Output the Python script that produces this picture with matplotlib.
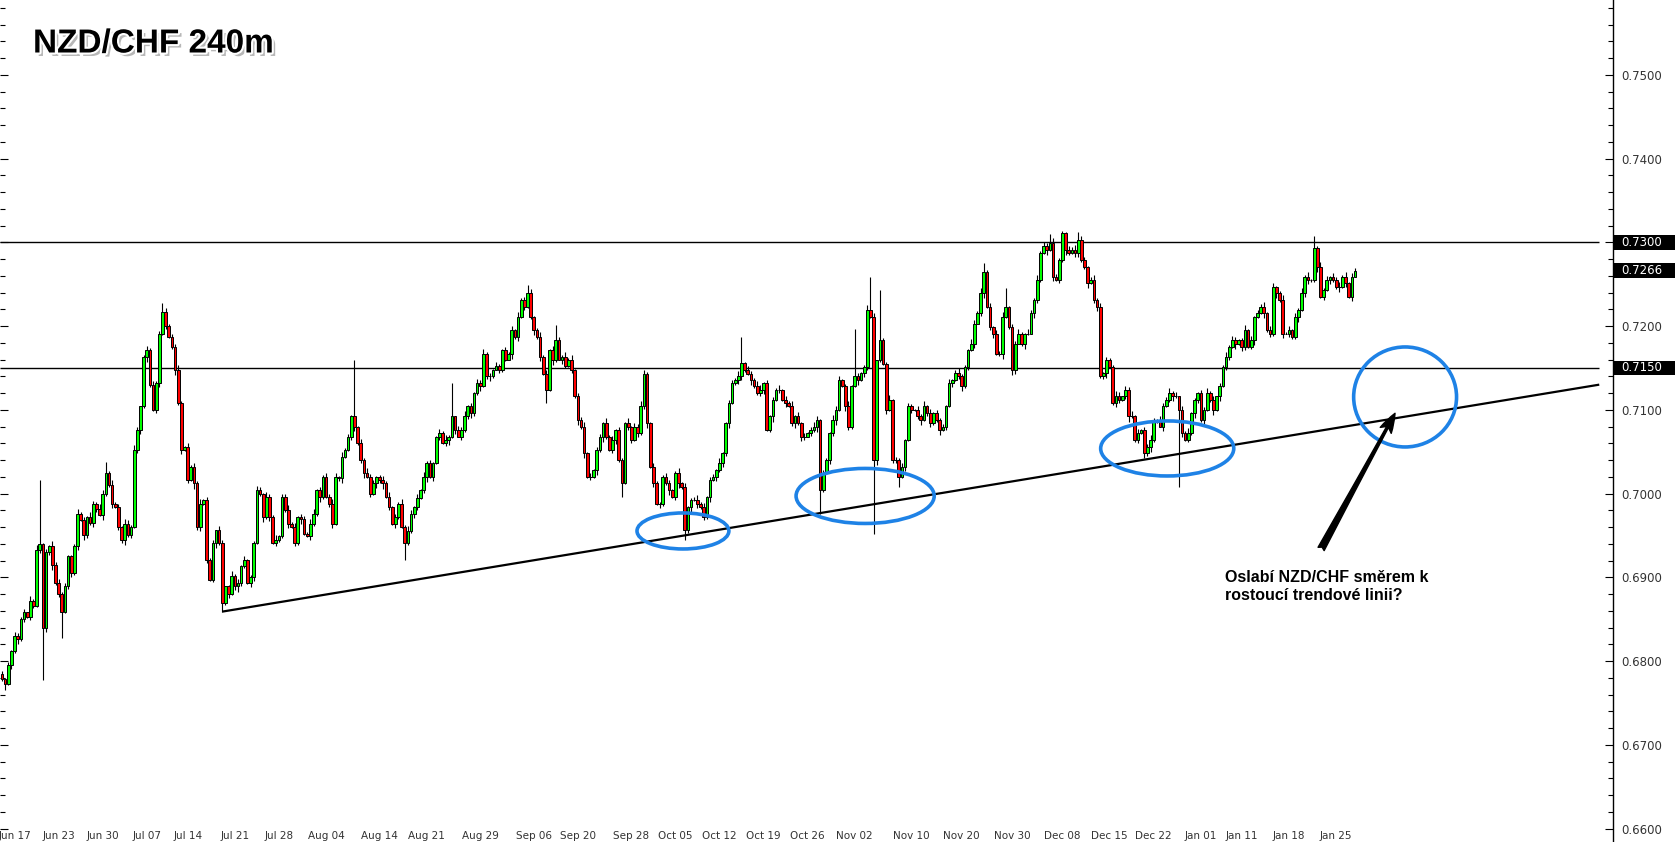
import matplotlib
matplotlib.use('Agg')
import matplotlib.pyplot as plt
import matplotlib.patheffects as pe
import matplotlib.transforms as mtransforms
from matplotlib.patches import Ellipse, Rectangle
from matplotlib.ticker import MultipleLocator
import numpy as np

# NZD/CHF 4h closes in pips (0.7000 -> 7000)
closes = [
    # Jun 17 - Sep 06
    6778, 6772, 6795, 6812, 6830, 6826, 6850, 6858, 6852, 6872,
    6866, 6933, 6940, 6840, 6930, 6937, 6915, 6893, 6880, 6858,
    6889, 6925, 6905, 6937, 6976, 6968, 6950, 6972, 6965, 6988,
    6982, 6974, 7000, 7024, 7010, 6988, 6984, 6960, 6944, 6964,
    6950, 6960, 7052, 7076, 7104, 7163, 7171, 7130, 7100, 7132,
    7191, 7217, 7200, 7187, 7175, 7147, 7108, 7052, 7056, 7016,
    7032, 7012, 6960, 6988, 6992, 6921, 6897, 6941, 6956, 6941,
    6869, 6889, 6880, 6901, 6889, 6893, 6913, 6921, 6893, 6900,
    6941, 7004, 7000, 6972, 6996, 6972, 6941, 6945, 6949, 6996,
    6980, 6964, 6960, 6941, 6972, 6970, 6952, 6949, 6964, 6976,
    7004, 6996, 7020, 6996, 6988, 6964, 7020, 7018, 7044, 7052,
    7068, 7092, 7080, 7060, 7040, 7025, 7020, 7000, 7012, 7020,
    7016, 7012, 6996, 6984, 6964, 6972, 6988, 6960, 6941, 6955,
    6976, 6984, 6995, 7004, 7020, 7036,
    # Sep 06 - Nov 02
    7020, 7036, 7068, 7072, 7060, 7064, 7068, 7092, 7076, 7068,
    7076, 7092, 7104, 7096, 7120, 7132, 7128, 7167, 7140, 7140,
    7148, 7152, 7148, 7171, 7160, 7167, 7195, 7187, 7211, 7231,
    7223, 7239, 7211, 7195, 7187, 7163, 7143, 7124, 7171, 7160,
    7183, 7160, 7163, 7152, 7160, 7148, 7116, 7088, 7080, 7048,
    7020, 7020, 7028, 7052, 7068, 7084, 7068, 7052, 7064, 7076,
    7040, 7012, 7084, 7080, 7064, 7080, 7072, 7104, 7143, 7084,
    7032, 7012, 6988, 6988, 7020, 7012, 7004, 6996, 7024, 7012,
    7008, 6956, 6984, 6992, 6992, 6988, 6984, 6972, 6996, 7016,
    7020, 7028, 7036, 7048, 7084, 7108, 7132, 7136, 7140, 7156,
    7148, 7143, 7136, 7128, 7120, 7124, 7132, 7076, 7092, 7112,
    7124, 7124, 7112, 7108, 7104, 7084, 7092, 7084, 7068, 7068,
    7072, 7076,
    # Nov 02 - Jan 01
    7080, 7088, 7004, 7024, 7040, 7072, 7088, 7100, 7136, 7128,
    7104, 7080, 7128, 7140, 7136, 7144, 7151, 7219, 7211, 7040,
    7159, 7183, 7155, 7100, 7112, 7040, 7040, 7020, 7032, 7064,
    7104, 7100, 7100, 7092, 7088, 7104, 7096, 7084, 7096, 7088,
    7076, 7080, 7104, 7132, 7136, 7144, 7140, 7128, 7151, 7171,
    7179, 7203, 7215, 7239, 7265, 7223, 7199, 7191, 7167, 7167,
    7211, 7223, 7199, 7147, 7179, 7191, 7179, 7191, 7191, 7215,
    7231, 7255, 7287, 7295, 7291, 7299, 7259, 7255, 7279, 7311,
    7291, 7287, 7291, 7287, 7303, 7279, 7271, 7251, 7255, 7231,
    7223, 7140, 7144, 7159, 7151, 7108, 7116, 7112, 7116, 7124,
    7092, 7092, 7064, 7072, 7076, 7048, 7056, 7064, 7088, 7088,
    7080, 7104, 7112, 7120, 7116, 7116, 7100, 7072, 7064, 7072,
    7096, 7112, 7120, 7088, 7100, 7120, 7112, 7100, 7116,
    # Jan
    7128, 7151, 7163, 7175, 7183, 7179, 7183, 7175, 7195, 7175,
    7183, 7211, 7215, 7223, 7215, 7195, 7191, 7247, 7239, 7231,
    7191, 7191, 7195, 7187, 7211, 7219, 7239, 7259, 7255, 7255,
    7293, 7271, 7235, 7243, 7255, 7259, 7255, 7247, 7247, 7259,
    7251, 7235, 7259, 7266,
]
first_open = 6785

# wick sizes in pips (one digit per candle)
wick_up = ("3241532416 2531426352 4213524163 2541362315 4263125342 3152436214 "
           "2536142315 4126352413 2541632514 3625143265 1425364152 3241526341 "
           "2536142536 4152634215 3624153624 1536241532 4251634251 3624152436 "
           "2514362514 3162514326 1436521432 2541362513 4625143162 1432651432 "
           "6514232514 3625142365 1432654136 2541362514 3261425143 1436251423 "
           "2514632154 3612514362 1436215436 2541632514 3625413625 1432651436 "
           "2514362154 3625143612 1436251436 2541362514 3625413625 1436251436 "
           "2514362514 3625143625")
wick_dn = ("2415362413 3142536241 1352416325 4163251436 2314526314 5241362513 "
           "1635241362 3251463215 4136251432 2514362143 3621452361 1452361425 "
           "3614253162 2541362514 1362514236 4251362143 2163524136 3514263152 "
           "1426351426 2631452314 4152361425 3261452136 1524361524 3612543162 "
           "2451362415 1362541326 4215362154 3162541362 1524362514 2361452361 "
           "4152362415 1362451362 2541362154 3162514362 1452361452 3612541362 "
           "2415362415 1362541326 4251362514 3162541362 1524362514 2361452361 "
           "4152362415 1362451362")

# long wicks (candle index: price in pips)
spike_hi = {12: 7016, 33: 7038, 51: 7227, 112: 7160, 143: 7132, 167: 7249,
            176: 7201, 235: 7187, 271: 7197, 276: 7259, 279: 7243, 312: 7275,
            319: 7245, 333: 7310, 337: 7314, 342: 7312, 417: 7307}
spike_lo = {1: 6765, 13: 6777, 19: 6827, 70: 6859, 128: 6921, 173: 7108,
            197: 6996, 217: 6944, 260: 6976, 277: 6952, 285: 7008, 374: 7008}

date_labels = ['Jun 17', 'Jun 23', 'Jun 30', 'Jul 07', 'Jul 14', 'Jul 21', 'Jul 28',
               'Aug 04', 'Aug 14', 'Aug 21', 'Aug 29', 'Sep 06', 'Sep 20', 'Sep 28',
               'Oct 05', 'Oct 12', 'Oct 19', 'Oct 26', 'Nov 02', 'Nov 10', 'Nov 20',
               'Nov 30', 'Dec 08', 'Dec 15', 'Dec 22', 'Jan 01', 'Jan 11', 'Jan 18',
               'Jan 25']
date_bars = [4, 18, 32, 46, 59, 74, 88, 103, 120, 135, 152, 169, 183, 200, 214,
             228, 242, 256, 271, 289, 305, 321, 337, 352, 366, 381, 394, 409, 424]

levels = [0.7300, 0.7150]
marked = [0.7300, 0.7266, 0.7150]
trend_x = [70, 507.6]
trend_y = [0.6859, 0.7130]

# ---- build OHLC
n = len(closes)
x = np.arange(n)
c = np.array(closes) / 10000.0
o = np.r_[first_open / 10000.0, c[:-1]]
up = np.array([int(d) for d in wick_up.replace(' ', '')[:n]]) / 10000.0
dn = np.array([int(d) for d in wick_dn.replace(' ', '')[:n]]) / 10000.0
hi = np.maximum(o, c) + up
lo = np.minimum(o, c) - dn
for k, v in spike_hi.items():
    hi[k] = v / 10000.0
for k, v in spike_lo.items():
    lo[k] = v / 10000.0

W, H = 1675, 842
fig = plt.figure(figsize=(W / 100, H / 100), dpi=100)
ax = fig.add_axes([0, 0, 1613 / W, 1])
ax.set_xlim(-0.64, 511.97)
ax.set_ylim(0.65839, 0.75893)

# candles
ax.vlines(x, lo, hi, color='black', linewidth=0.8, zorder=2)
colors = np.where(c >= o, '#00ff00', '#ff0000')
ax.bar(x, np.abs(c - o), bottom=np.minimum(o, c), width=0.85, color=colors,
       edgecolor='black', linewidth=0.7, zorder=3)

# support / resistance
ax.hlines(levels, -0.64, trend_x[1], color='black', linewidth=1.0, zorder=1)
ax.plot(trend_x, trend_y, color='black', linewidth=1.6, zorder=4,
        solid_capstyle='butt')

# blue circles
for cx, cy, w, h in [(216.4, 0.69553, 29.2, 0.0043),
                     (274.3, 0.69971, 43.9, 0.00657),
                     (370.3, 0.70538, 42.3, 0.00657),
                     (445.9, 0.71153, 32.7, 0.01194)]:
    ax.add_patch(Ellipse((cx, cy), w, h, fill=False, edgecolor='#1e82e6',
                         linewidth=2.6, zorder=5))

# arrow
ax.annotate('', xy=(442.7, 0.70958), xytext=(419.2, 0.69338),
            arrowprops=dict(arrowstyle='fancy,head_length=0.7,head_width=0.45,tail_width=0.25',
                            color='black', mutation_scale=20, shrinkA=0, shrinkB=0),
            zorder=6)

# axes cosmetics
for s in ['top', 'left', 'bottom']:
    ax.spines[s].set_visible(False)
ax.spines['right'].set_linewidth(1.0)
ax.set_yticks(np.arange(0.66, 0.7501, 0.01))
ax.set_yticklabels(['%.4f' % v for v in np.arange(0.66, 0.7501, 0.01)])
ax.yaxis.set_minor_locator(MultipleLocator(0.002))
ax.tick_params(axis='y', which='both', direction='in', left=True, right=True,
               labelleft=False, labelright=True, labelsize=8.5,
               labelcolor='#333333', pad=6)
ax.tick_params(axis='y', which='major', length=6, width=0.8)
ax.tick_params(axis='y', which='minor', length=3.5, width=0.8)
ax.set_xticks(date_bars)
ax.set_xticklabels(date_labels)
ax.tick_params(axis='x', length=0, labelsize=7.5, labelcolor='#333333', pad=-8)

# price boxes on the scale
blend = mtransforms.blended_transform_factory(ax.transAxes, ax.transData)
for p in marked:
    ax.add_patch(Rectangle((1.0, p - 0.00088), 0.04, 0.00176, transform=blend,
                           facecolor='black', edgecolor='none', clip_on=False, zorder=6))
    ax.text(1.0 + 8.3 / 1613, p, '%.4f' % p, transform=blend, color='white',
            fontsize=8.5, va='center', ha='left', zorder=7, clip_on=False)

# title and comment
fig.text(33 / W, 1 - 44 / H, 'NZD/CHF 240m', fontsize=24, fontweight='bold',
         family='Liberation Sans', va='center', ha='left',
         path_effects=[pe.SimplePatchShadow(offset=(2.5, -2.5), shadow_rgbFace='#888888', alpha=0.6),
                       pe.Stroke(linewidth=3, foreground='white'), pe.Normal()])
fig.text(1225 / W, 1 - 586 / H, 'Oslabí NZD/CHF směrem k\nrostoucí trendové linii?',
         fontsize=11.5, fontweight='bold', family='Liberation Sans',
         va='center', ha='left', linespacing=1.25)

fig.savefig('out.png', dpi=100)
